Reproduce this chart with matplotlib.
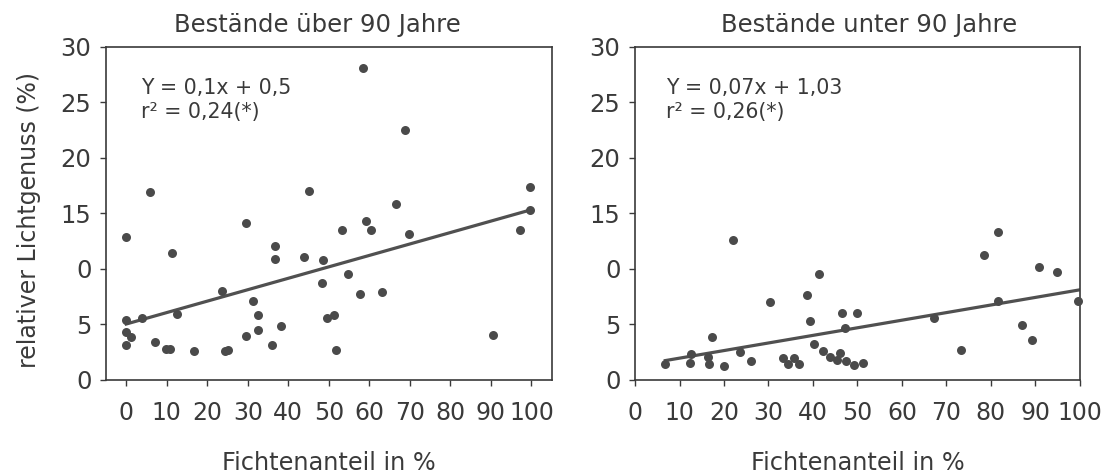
import matplotlib
matplotlib.use("Agg")
import matplotlib.pyplot as plt
import numpy as np

# Data
# Stands older than 90 years
old_x = [58.4, 68.7, 5.8, 45.2, 99.7, 66.7, 99.7, 29.5, 59.3, 53.3, 60.3, 97.3, 0, 69.7,
         11.3, 36.7, 36.6, 43.8, 48.5, 54.8, 48.2, 57.8, 63.2, 23.7, 31.3, 32.4, 12.5,
         3.8, 0, 49.5, 51.2, 32.4, 38.3, 0, 1.2, 7.2, 29.6, 0, 36.0, 9.7, 10.8, 16.7,
         24.3, 25.0, 51.8, 90.4]
old_y = [28.1, 22.5, 16.9, 17.0, 17.3, 15.8, 15.3, 14.1, 14.3, 13.5, 13.5, 13.5, 12.8, 13.1,
         11.4, 12.0, 10.9, 11.05, 10.8, 9.5, 8.7, 7.7, 7.9, 8.0, 7.1, 5.8, 5.9,
         5.5, 5.35, 5.5, 5.8, 4.45, 4.85, 4.3, 3.85, 3.4, 3.95, 3.1, 3.1, 2.75, 2.75, 2.6,
         2.6, 2.65, 2.65, 4.05]

# Stands younger than 90 years
young_x = [22.0, 41.3, 30.3, 38.7, 46.5, 49.9, 39.3, 47.3, 17.3, 40.3,
           42.3, 12.6, 23.7, 43.9, 46.1, 16.5, 33.2, 35.8, 26.0, 45.5,
           47.4, 6.8, 12.4, 16.7, 34.3, 36.8, 20.1, 49.3, 51.2,
           81.7, 78.5, 90.9, 94.9, 81.5, 99.5, 67.3, 87.1, 89.2, 73.2]
young_y = [12.6, 9.55, 7.0, 7.6, 6.0, 6.0, 5.3, 4.6, 3.8, 3.2,
           2.6, 2.3, 2.45, 2.05, 2.35, 2.05, 1.9, 1.95, 1.7, 1.75,
           1.65, 1.4, 1.45, 1.4, 1.4, 1.4, 1.2, 1.3, 1.5,
           13.3, 11.25, 10.1, 9.7, 7.1, 7.05, 5.55, 4.9, 3.6, 2.7]

# regression lines as drawn (intercept, slope, x range)
old_fit = (5.0, 0.103, 0, 100)
young_fit = (1.24, 0.0684, 6.8, 100)

titles = ["Bestände über 90 Jahre", "Bestände unter 90 Jahre"]
equations = [("Y = 0,1x + 0,5", "r² = 0,24(*)"), ("Y = 0,07x + 1,03", "r² = 0,26(*)")]

x_ticks = [0, 10, 20, 30, 40, 50, 60, 70, 80, 90, 100]
y_ticks = [0, 5, 10, 15, 20, 25, 30]
# the scan lost the "1" of the 10 label
y_tick_labels = ["0", "5", "0", "15", "20", "25", "30"]

DOT = "#4a4a4a"
LINE = "#505050"
INK = "#3a3a3a"

plt.rcParams["font.family"] = "DejaVu Sans"

fig = plt.figure(figsize=(11.19, 4.76), dpi=100)
ax_old = fig.add_axes([0.0947, 0.2027, 0.3983, 0.6996])
ax_young = fig.add_axes([0.5675, 0.2027, 0.3975, 0.6996])


def draw_panel(ax, xs, ys, fit, title, eq, xlim, title_x, eq_x):
    ax.scatter(xs, ys, s=42, color=DOT, zorder=3, clip_on=False, linewidths=0)
    a, b, x0, x1 = fit
    lx = np.array([x0, x1])
    ax.plot(lx, a + b * lx, color=LINE, lw=2.3, zorder=2)

    ax.set_xlim(*xlim)
    ax.set_ylim(0, 30)
    ax.set_xticks(x_ticks)
    ax.set_yticks(y_ticks)
    ax.set_yticklabels(y_tick_labels)
    ax.tick_params(axis="x", direction="out", length=4.5, width=1, pad=11,
                   labelsize=17, colors=INK)
    ax.tick_params(axis="y", direction="out", length=4.5, width=1, pad=6,
                   labelsize=17.5, colors=INK)
    for sp in ax.spines.values():
        sp.set_color(INK)
        sp.set_linewidth(1.2)

    ax.set_title(title, fontsize=17.5, color=INK, pad=10.5, x=title_x)
    ax.text(eq_x, 0.858, eq[0], transform=ax.transAxes, fontsize=14.8,
            color=INK, va="baseline")
    ax.text(eq_x, 0.785, eq[1], transform=ax.transAxes, fontsize=14.8,
            color=INK, va="baseline")
    ax.set_xlabel("Fichtenanteil in %", fontsize=17.3, color=INK)
    ax.xaxis.set_label_coords(0.5, -0.215)


draw_panel(ax_old, old_x, old_y, old_fit, titles[0], equations[0], (-5, 105), 0.475, 0.078)
draw_panel(ax_young, young_x, young_y, young_fit, titles[1], equations[1], (0, 100), 0.527, 0.07)

ax_old.set_ylabel("relativer Lichtgenuss (%)", fontsize=17, color=INK)
ax_old.yaxis.set_label_coords(-0.145, 0.48)

fig.savefig("out.png", dpi=100)
